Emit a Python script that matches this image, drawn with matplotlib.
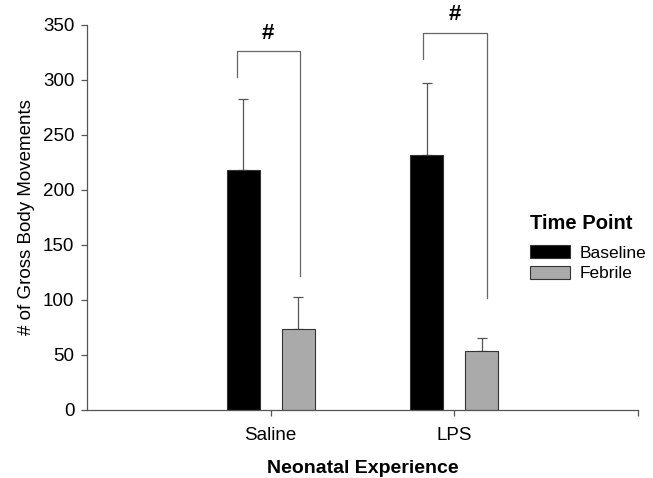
import matplotlib.pyplot as plt
import numpy as np

plt.rcParams['font.family'] = ['Liberation Sans', 'DejaVu Sans']

groups = ["Saline", "LPS"]
series = ["Baseline", "Febrile"]
baseline = [218, 232]
baseline_err = [65, 65]
febrile = [74, 54]
febrile_err = [29, 11]
colors = ["#000000", "#aaaaaa"]

# significance brackets: (left x offset, right x offset, left bottom, top, right bottom)
brackets = [(-0.185, 0.158, 303, 326, 122), (-0.17, 0.18, 319, 343, 102)]

fig = plt.figure(figsize=(6.53, 4.78), dpi=100)
ax = fig.add_axes([0.1332, 0.1423, 0.8438, 0.8054])

x = np.arange(len(groups))
w = 0.18
off = 0.15
for vals, errs, c, lab, sgn in [(baseline, baseline_err, colors[0], series[0], -1),
                                 (febrile, febrile_err, colors[1], series[1], 1)]:
    ax.bar(x + sgn * off, vals, w, color=c, edgecolor="#333333", linewidth=0.8, label=lab, zorder=2)
    ax.errorbar(x + sgn * off, vals, yerr=[np.zeros(len(errs)), errs], fmt="none",
                ecolor="#555555", elinewidth=0.9, capsize=3.5, capthick=0.9, zorder=1)

for xi, (l, r, lb, top, rb) in zip(x, brackets):
    ax.plot([xi + l, xi + l, xi + r, xi + r], [lb, top, top, rb], color="#666666", lw=0.9, clip_on=False)
    ax.text(xi + (l + r) / 2, top + 7, "#", ha="center", va="bottom", fontsize=16,
            fontweight="bold", clip_on=False)

ax.set_xlim(-1, 2)
ax.set_ylim(0, 350)
ax.set_yticks(range(0, 351, 50))
ax.set_xticks([0, 1, 2])
ax.set_xticklabels(groups + [""])
ax.tick_params(axis="both", labelsize=13.5, color="#555555", length=4, width=0.9)
ax.tick_params(axis="x", pad=8)
ax.tick_params(axis="y", pad=5)
for s in ["top", "right"]:
    ax.spines[s].set_visible(False)
for s in ["left", "bottom"]:
    ax.spines[s].set_color("#555555")
    ax.spines[s].set_linewidth(0.9)

ax.set_ylabel("# of Gross Body Movements", fontsize=13.5, labelpad=6)
ax.set_xlabel("Neonatal Experience", fontsize=14, fontweight="bold", labelpad=12)

leg = ax.legend(title="Time Point", loc="upper left", bbox_to_anchor=(0.775, 0.55),
                frameon=False, fontsize=12.5, handlelength=2.3, handleheight=0.75,
                handletextpad=0.6, labelspacing=0.3, alignment="left")
leg.get_title().set_fontweight("bold")
leg.get_title().set_fontsize(14.5)
leg._legend_box.sep = 9

fig.savefig("out.png", dpi=100)
